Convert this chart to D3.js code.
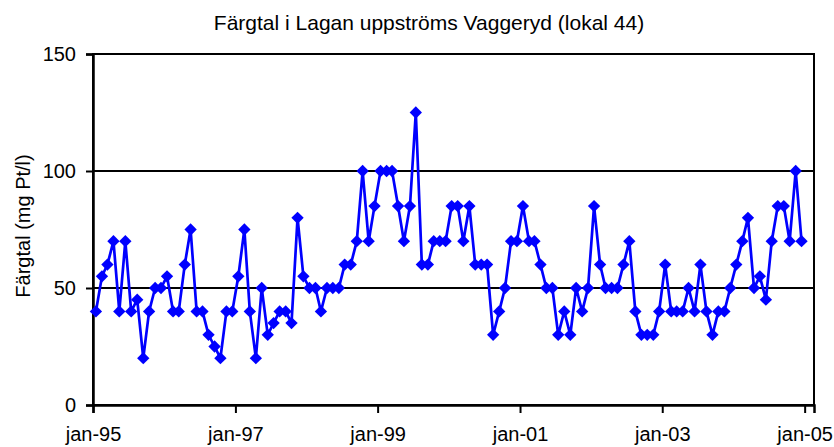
<!DOCTYPE html>
<html>
<head>
<meta charset="utf-8">
<script src="https://cdn.jsdelivr.net/npm/d3@7"></script>
<style>
  body { margin: 0; background: #fff; }
  text { font-family: "Liberation Sans", Arial, sans-serif; fill: #000; }
</style>
</head>
<body>
<svg id="chart" width="834" height="447"></svg>
<script>
// monthly samples, jan 1995 - dec 2004
var startYear = 1995;
var values = [
    40, 55, 60, 70, 40, 70, 40, 45, 20, 40, 50, 50,
    55, 40, 40, 60, 75, 40, 40, 30, 25, 20, 40, 40,
    55, 75, 40, 20, 50, 30, 35, 40, 40, 35, 80, 55,
    50, 50, 40, 50, 50, 50, 60, 60, 70, 100, 70, 85,
    100, 100, 100, 85, 70, 85, 125, 60, 60, 70, 70, 70,
    85, 85, 70, 85, 60, 60, 60, 30, 40, 50, 70, 70,
    85, 70, 70, 60, 50, 50, 30, 40, 30, 50, 40, 50,
    85, 60, 50, 50, 50, 60, 70, 40, 30, 30, 30, 40,
    60, 40, 40, 40, 50, 40, 60, 40, 30, 40, 40, 50,
    60, 70, 80, 50, 55, 45, 70, 85, 85, 70, 100, 70
];
var yTicks = [0, 50, 100, 150];
var xTickYears = [1995, 1997, 1999, 2001, 2003, 2005];

var data = values.map(function (v, i) {
    return { date: new Date(startYear + Math.floor(i / 12), i % 12, 16), value: v };
});

var svg = d3.select("#chart");
var margin = { top: 54, right: 20, bottom: 42, left: 93 };
var width = 834 - margin.left - margin.right;
var height = 447 - margin.top - margin.bottom;
var fontSize = "20px";

var x = d3.scaleTime()
    .domain([new Date(1995, 0, 1), new Date(2005, 1, 18)])
    .range([0, width]);
var y = d3.scaleLinear().domain([0, 150]).range([height, 0]);

var g = svg.append("g")
    .attr("transform", "translate(" + margin.left + "," + margin.top + ")");

// gridlines
g.selectAll(".grid")
    .data(yTicks.filter(function (t) { return t > 0 && t < 150; }))
    .enter().append("line")
    .attr("x1", 0).attr("x2", width)
    .attr("y1", function (d) { return y(d); })
    .attr("y2", function (d) { return y(d); })
    .attr("stroke", "#000").attr("stroke-width", 2);

// frame
g.append("rect")
    .attr("width", width).attr("height", height)
    .attr("fill", "none").attr("stroke", "#000").attr("stroke-width", 2);

var yAxis = g.append("g")
    .call(d3.axisLeft(y).tickValues(yTicks).tickSize(7).tickPadding(10));
var xAxis = g.append("g")
    .attr("transform", "translate(0," + height + ")")
    .call(d3.axisBottom(x)
        .tickValues(xTickYears.map(function (yr) { return new Date(yr, 0, 1); }))
        .tickFormat(function (d) { return "jan-" + d3.timeFormat("%y")(d); })
        .tickSize(8).tickPadding(14));

[yAxis, xAxis].forEach(function (ax) {
    ax.select(".domain").attr("stroke", "#000").attr("stroke-width", 2.5);
    ax.selectAll(".tick line").attr("stroke", "#000").attr("stroke-width", 2);
    ax.selectAll(".tick text").style("font-size", fontSize)
        .style("font-family", "'Liberation Sans', Arial, sans-serif");
});

var line = d3.line()
    .x(function (d) { return x(d.date); })
    .y(function (d) { return y(d.value); });

g.append("path")
    .datum(data)
    .attr("fill", "none")
    .attr("stroke", "#0000ff")
    .attr("stroke-width", 2.7)
    .attr("d", line);

var diamond = d3.symbol().type(d3.symbolSquare).size(76);
g.selectAll(".pt")
    .data(data)
    .enter().append("path")
    .attr("d", diamond)
    .attr("transform", function (d) {
        return "translate(" + x(d.date) + "," + y(d.value) + ") rotate(45)";
    })
    .attr("fill", "#0000ff");

svg.append("text")
    .attr("x", 429).attr("y", 30)
    .attr("text-anchor", "middle")
    .style("font-size", "21px")
    .text("Färgtal i Lagan uppströms Vaggeryd (lokal 44)");

svg.append("text")
    .attr("transform", "translate(30," + 226 + ") rotate(-90)")
    .attr("text-anchor", "middle")
    .style("font-size", fontSize)
    .text("Färgtal (mg Pt/l)");
</script>
</body>
</html>
